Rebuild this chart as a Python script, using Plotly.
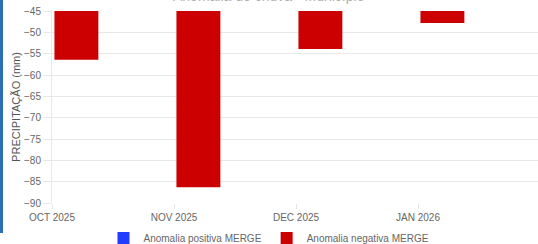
import plotly.graph_objects as go

months = ["OCT 2025", "NOV 2025", "DEC 2025", "JAN 2026"]
positive_values = [None, None, None, None]
negative_values = [-56.4, -86.3, -53.9, -47.8]
y_ticks = [-90, -85, -80, -75, -70, -65, -60, -55, -50, -45]
title_text = "Anomalia de chuva - Município"
y_title = "PRECIPITAÇÃO (mm)"

idx = list(range(len(months)))
FONT = "Liberation Sans, Arial, Helvetica, sans-serif"

fig = go.Figure()
fig.add_trace(go.Bar(
    x=idx, y=positive_values, name="Anomalia positiva MERGE",
    marker=dict(color="#1f3cff", line=dict(width=0)),
    offset=0.02, width=0.36,
))
fig.add_trace(go.Bar(
    x=idx, y=negative_values, name="Anomalia negativa MERGE",
    marker=dict(color="#cc0000", line=dict(width=0)),
    offset=0.02, width=0.36,
))

W, H = 538, 244
ml, mr, mt, mb = 52, 0, 11, 41
pw = W - ml - mr
ph = H - mt - mb

fig.update_layout(
    width=W, height=H,
    margin=dict(l=ml, r=mr, t=mt, b=mb, autoexpand=False),
    paper_bgcolor="white", plot_bgcolor="white",
    barmode="overlay",
    font=dict(family=FONT, size=10, color="#666666"),
    xaxis=dict(
        range=[0, pw / 122.0], tickmode="array", tickvals=idx, ticktext=months,
        showgrid=False, zeroline=False, showline=False,
        ticks="outside", ticklen=5, tickcolor="#e5e5e5",
        tickfont=dict(size=10, color="#666666"), automargin=False,
    ),
    yaxis=dict(
        range=[-90, -45], tickmode="array", tickvals=y_ticks,
        showgrid=True, gridcolor="#e8e8e8", gridwidth=1, zeroline=False,
        showline=True, linecolor="#e8e8e8",
        ticks="outside", ticklen=8, tickcolor="#e8e8e8",
        tickfont=dict(size=10, color="#666666"), automargin=False,
        title=dict(text=y_title, font=dict(size=11, color="#555555"), standoff=1),
    ),
    legend=dict(orientation="h", xref="container", x=0.5, xanchor="center",
                yref="paper", y=-(238 - (H - mb)) / ph, yanchor="middle",
                font=dict(size=10, color="#666666"), itemwidth=30,
                bgcolor="rgba(0,0,0,0)"),
    annotations=[dict(text=title_text, xref="paper", yref="paper",
                      x=(W / 2 - ml) / pw, xanchor="center",
                      y=1 + (mt - 6) / ph, yanchor="bottom", showarrow=False,
                      font=dict(family=FONT, size=14, color="#b0b0b0"))],
    shapes=[dict(type="rect", xref="paper", yref="paper",
                 x0=-ml / pw, x1=-(ml - 3) / pw,
                 y0=-(233 - (H - mb)) / ph, y1=1 + mt / ph,
                 fillcolor="#2a6fb3", line=dict(width=0), layer="above")],
)

fig.write_html(
    "out.html",
    config={"displayModeBar": False},
    post_script="document.body.style.margin='0';document.body.style.overflow='hidden';",
)
